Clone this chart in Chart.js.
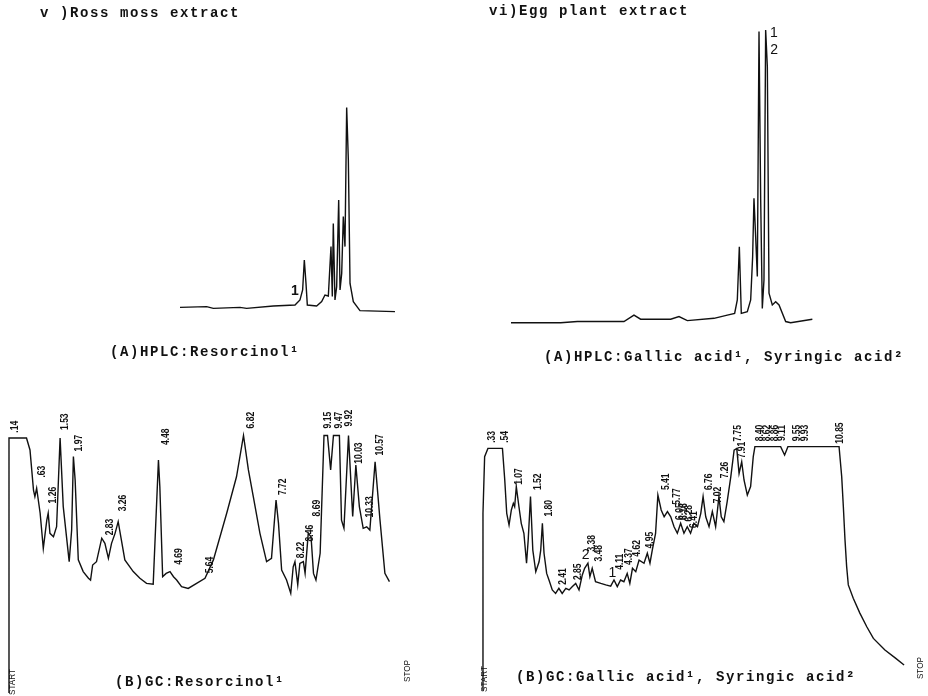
<!DOCTYPE html>
<html>
<head>
<meta charset="utf-8">
<script src="https://cdn.jsdelivr.net/npm/chart.js@4.4.1/dist/chart.umd.min.js"></script>
<style>
  body { margin: 0; background: #fff; }
  #page { position: relative; width: 928px; height: 696px; overflow: hidden; background: #fff; }
  canvas { position: absolute; }
  .txt {
    position: absolute;
    font-family: "Liberation Mono", "DejaVu Sans Mono", monospace;
    font-size: 14px;
    font-weight: bold;
    line-height: 14px;
    letter-spacing: 1.6px;
    color: #111;
    white-space: nowrap;
  }
</style>
</head>
<body>
<div id="page">
  <canvas id="hplcRoss" width="464" height="380" style="left:0;top:0"></canvas>
  <canvas id="hplcEgg" width="464" height="380" style="left:464px;top:0"></canvas>
  <canvas id="gcRoss" width="464" height="316" style="left:0;top:380px"></canvas>
  <canvas id="gcEgg" width="464" height="316" style="left:464px;top:380px"></canvas>

  <div class="txt" style="left:40px;top:6px">v )Ross moss extract</div>
  <div class="txt" style="left:489px;top:4px">vi)Egg plant extract</div>
  <div class="txt" style="left:110px;top:345px">(A)HPLC:Resorcinol¹</div>
  <div class="txt" style="left:544px;top:350px">(A)HPLC:Gallic acid¹, Syringic acid²</div>
  <div class="txt" style="left:115px;top:675px">(B)GC:Resorcinol¹</div>
  <div class="txt" style="left:516px;top:670px">(B)GC:Gallic acid¹, Syringic acid²</div>
</div>

<script>
// HPLC, Ross moss extract (time in min, signal in % of largest peak)
const hplcRossTime = [0, 3.81, 4.76, 8.57, 9.52, 13.33, 16.43, 17.14, 17.52, 17.76, 18.0, 18.19, 19.52, 20.24, 20.71, 21.19, 21.57, 21.76, 21.9, 22.14, 22.38, 22.67, 22.86, 23.1, 23.33, 23.57, 23.81, 24.05, 24.29, 24.76, 25.71, 30.71];
const hplcRossSignal = [-0.2, 0.2, -0.7, -0.2, -0.7, 0.5, 1.0, 3.5, 8.5, 23.5, 11.8, 1.0, 0.5, 2.7, 6.0, 5.5, 30.2, 5.2, 41.8, 3.5, 10.2, 53.5, 8.5, 16.8, 45.2, 30.2, 99.8, 73.5, 11.8, 2.7, -1.8, -2.3];

// HPLC, Egg plant extract
const hplcEggTime = [0, 7.1, 9.48, 16.14, 17.57, 18.52, 22.81, 24.0, 25.19, 29.0, 30.9, 31.95, 32.33, 32.62, 32.9, 33.76, 34.24, 34.52, 34.71, 34.95, 35.19, 35.43, 35.67, 35.9, 36.14, 36.38, 36.62, 36.86, 37.33, 37.81, 38.29, 39.24, 39.95, 43.05];
const hplcEggSignal = [0.1, 0.1, 0.5, 0.5, 2.7, 1.3, 1.3, 2.2, 0.8, 1.6, 2.7, 3.3, 7.9, 26.1, 3.3, 3.9, 7.9, 22.7, 42.7, 29.6, 15.9, 99.8, 42.1, 5.0, 14.7, 100.3, 87.8, 10.2, 6.2, 7.3, 6.2, 0.5, 0.1, 1.3];

// GC, Ross moss extract (retention time in min, response in % of full scale)
const gcRossTime = [0, 0, 0.5, 0.6, 0.7, 0.74, 0.79, 0.89, 0.98, 1.08, 1.12, 1.17, 1.27, 1.36, 1.46, 1.55, 1.72, 1.79, 1.84, 1.89, 1.98, 2.12, 2.27, 2.33, 2.39, 2.5, 2.65, 2.74, 2.84, 2.93, 3.03, 3.12, 3.31, 3.55, 3.74, 3.93, 4.12, 4.27, 4.31, 4.39, 4.49, 4.6, 4.7, 4.79, 4.93, 5.12, 5.36, 5.6, 5.84, 6.22, 6.5, 6.7, 6.84, 6.98, 7.17, 7.36, 7.5, 7.63, 7.7, 7.79, 7.93, 8.05, 8.12, 8.17, 8.25, 8.31, 8.41, 8.46, 8.55, 8.63, 8.7, 8.77, 8.89, 9.0, 9.1, 9.19, 9.27, 9.44, 9.5, 9.57, 9.7, 9.82, 9.91, 10.01, 10.12, 10.22, 10.31, 10.46, 10.6, 10.74, 10.87];
const gcRossResponse = [0, 100, 100, 95.3, 79.6, 77.0, 80.3, 70.5, 56.7, 67.8, 70.5, 62.6, 61.3, 65.2, 100, 73.1, 51.5, 63.9, 92.7, 83.5, 52.2, 47.6, 45.0, 44.3, 50.2, 51.5, 60.7, 58.7, 52.8, 58.7, 62.6, 67.2, 52.2, 47.6, 45.0, 43.0, 42.7, 91.4, 80.9, 45.6, 46.9, 47.6, 45.6, 44.3, 41.7, 41.0, 43.0, 45.0, 52.2, 70.5, 84.8, 101, 87.5, 77.0, 62.6, 51.5, 52.8, 75.7, 66.5, 48.2, 44.3, 39.1, 49.5, 51.5, 42.4, 50.8, 51.5, 46.9, 62.6, 61.3, 46.9, 44.3, 54.8, 101, 101, 87.5, 101, 101, 67.8, 64.6, 101, 69.2, 89.4, 73.1, 64.6, 65.2, 63.9, 90.7, 67.8, 46.9, 43.7];
const gcRossPeakText = [".14", ".63", "1.26", "1.53", "1.97", "2.83", "3.26", "4.48", "4.69", "5.64", "6.82", "7.72", "8.22", "8.46", "8.69", "9.15", "9.47", "9.92", "10.03", "10.33", "10.57"];
const gcRossPeakTime = [0.17, 0.96, 1.26, 1.6, 2.0, 2.89, 3.27, 4.48, 4.86, 5.74, 6.91, 7.84, 8.36, 8.6, 8.81, 9.12, 9.44, 9.72, 10.01, 10.33, 10.6];
const gcRossPeakHeight = [104.4, 86.8, 77.6, 106.4, 98, 65.1, 74.5, 100.5, 53.5, 50.2, 107, 80.9, 56.1, 62.7, 72.5, 107, 107, 107.8, 94.1, 73, 97.3];

// GC, Egg plant extract
const gcEggTime = [0.01, 0.03, 0.08, 0.18, 0.62, 0.69, 0.75, 0.82, 0.89, 0.95, 0.99, 1.04, 1.12, 1.19, 1.27, 1.35, 1.4, 1.47, 1.54, 1.63, 1.73, 1.78, 1.83, 1.88, 1.96, 2.03, 2.13, 2.23, 2.33, 2.43, 2.54, 2.64, 2.74, 2.84, 2.94, 3.04, 3.11, 3.21, 3.27, 3.34, 3.44, 3.6, 3.75, 3.9, 4.0, 4.1, 4.2, 4.3, 4.4, 4.48, 4.56, 4.66, 4.76, 4.91, 5.01, 5.09, 5.16, 5.26, 5.33, 5.43, 5.52, 5.62, 5.72, 5.82, 5.92, 6.02, 6.12, 6.22, 6.32, 6.42, 6.53, 6.63, 6.7, 6.78, 6.88, 6.98, 7.08, 7.18, 7.25, 7.33, 7.43, 7.54, 7.64, 7.72, 7.79, 7.87, 7.94, 8.04, 8.14, 8.22, 8.27, 9.05, 9.17, 9.27, 10.82, 10.9, 10.95, 11.0, 11.05, 11.1, 11.25, 11.45, 11.66, 11.86, 12.21, 12.52, 12.79];
const gcEggResponse = [0, 72.6, 95.9, 99.3, 99.3, 86.3, 72.6, 67.8, 74.0, 76.7, 75.3, 83.6, 75.3, 68.5, 64.4, 52.1, 61.6, 79.5, 57.5, 48.6, 52.7, 57.5, 68.5, 56.2, 47.9, 45.2, 41.1, 39.7, 41.8, 39.7, 41.8, 41.1, 42.5, 43.8, 41.1, 47.3, 50.0, 52.1, 46.6, 50.0, 44.5, 43.8, 43.2, 42.7, 45.2, 42.5, 45.2, 44.5, 47.9, 43.8, 50.0, 48.6, 53.4, 52.1, 56.2, 52.1, 57.5, 64.4, 80.1, 74.0, 71.2, 73.3, 71.2, 67.1, 64.4, 68.5, 64.4, 67.1, 64.4, 68.5, 67.1, 72.6, 79.5, 71.2, 67.1, 73.3, 67.1, 79.5, 71.2, 69.2, 77.4, 87.7, 98.6, 99.3, 89.0, 93.8, 86.3, 80.1, 83.6, 95.9, 100, 100, 96.6, 100, 100, 87.7, 75.3, 61.7, 50.7, 43.2, 37.7, 31.6, 26.0, 21.2, 16.4, 13.2, 10.3];
const gcEggPeakText = [".33", ".54", "1.07", "1.52", "1.80", "2.41", "2.85", "3.38", "3.48", "4.11", "4.37", "4.62", "4.95", "5.41", "5.77", "6.05", "6.16", "6.28", "6.41", "6.76", "7.02", "7.26", "7.75", "7.91", "8.40", "8.62", "8.86", "9.11", "9.55", "9.93", "10.85"];
const gcEggPeakTime = [0.31, 0.72, 1.12, 1.7, 2.03, 2.46, 2.92, 3.34, 3.55, 4.2, 4.45, 4.69, 5.11, 5.57, 5.92, 6.0, 6.14, 6.28, 6.44, 6.88, 7.15, 7.38, 7.76, 7.89, 8.44, 8.65, 8.9, 9.1, 9.56, 9.81, 10.87];
const gcEggPeakHeight = [104, 104, 87.7, 85.6, 74.7, 46.6, 48.6, 60.3, 56.2, 52.7, 54.8, 58.2, 61.6, 85.6, 79.5, 73.3, 73.3, 72.6, 70, 85.6, 80.1, 90.4, 105.5, 98.6, 105.6, 105.6, 105.6, 105.6, 105.6, 105.6, 105.6];

// compound numbers (1 = resorcinol / gallic acid, 2 = syringic acid)
const hplcRossMarks = { text: ["1"], x: [16.43], y: [7.7] };
const hplcEggMarks = { text: ["1", "2"], x: [37.57, 37.6], y: [99.3, 93.3] };
const gcEggMarks = { text: ["2", "1"], x: [3.14, 3.95], y: [55.5, 47.9] };
const gcRossRun = { text: ["START", "STOP"], x: [0.1, 11.4], y: [4.3, 8.6] };
const gcEggRun = { text: ["START", "STOP"], x: [0.08, 13.3], y: [4.5, 9.0] };

// draws rotated peak labels and upright compound numbers at data positions
const peakLabels = {
  id: "peakLabels",
  afterDatasetsDraw(chart, args, opts) {
    const ctx = chart.ctx;
    const xs = chart.scales.x;
    const ys = chart.scales.y;
    ctx.save();
    ctx.fillStyle = "#111";
    ctx.textAlign = "center";
    ctx.textBaseline = "middle";

    function vertical(list, font, squeeze) {
      if (!list) return;
      list.text.forEach((t, i) => {
        ctx.save();
        ctx.translate(xs.getPixelForValue(list.x[i]), ys.getPixelForValue(list.y[i]));
        ctx.rotate(-Math.PI / 2);
        ctx.scale(squeeze, 1);
        ctx.font = font;
        ctx.fillText(t, 0, 0);
        ctx.restore();
      });
    }

    vertical(opts.peaks, 'bold 10px "Liberation Sans", Arial, sans-serif', 0.85);
    vertical(opts.run, '9px "Liberation Sans", Arial, sans-serif', 0.9);

    if (opts.marks) {
      ctx.font = (opts.markFont || '14px "Liberation Sans", Arial, sans-serif');
      opts.marks.text.forEach((t, i) => {
        ctx.fillText(t, xs.getPixelForValue(opts.marks.x[i]), ys.getPixelForValue(opts.marks.y[i]));
      });
    }
    ctx.restore();
  }
};

function makeChart(id, times, values, xMin, xMax, yMin, yMax, labelOpts) {
  return new Chart(document.getElementById(id), {
    type: "line",
    data: {
      datasets: [{
        data: times.map((t, i) => ({ x: t, y: values[i] })),
        borderColor: "#111",
        borderWidth: 1.4,
        pointRadius: 0,
        tension: 0,
        fill: false,
        clip: false
      }]
    },
    options: {
      responsive: false,
      animation: false,
      events: [],
      layout: { padding: 0 },
      plugins: {
        legend: { display: false },
        tooltip: { enabled: false },
        peakLabels: labelOpts
      },
      scales: {
        x: { type: "linear", display: false, min: xMin, max: xMax },
        y: { type: "linear", display: false, min: yMin, max: yMax }
      }
    },
    plugins: [peakLabels]
  });
}

makeChart("hplcRoss", hplcRossTime, hplcRossSignal, -25.71, 40.57, -36.5, 153.5,
  { marks: hplcRossMarks, markFont: 'bold 14px "Liberation Sans", Arial, sans-serif' });
makeChart("hplcEgg", hplcEggTime, hplcEggSignal, -6.71, 59.57, -19.52, 110.6,
  { marks: hplcEggMarks });
makeChart("gcRoss", gcRossTime, gcRossResponse, -0.257, 13.0, -1.18, 122.75,
  { peaks: { text: gcRossPeakText, x: gcRossPeakTime, y: gcRossPeakHeight }, run: gcRossRun });
makeChart("gcEgg", gcEggTime, gcEggResponse, -0.545, 13.515, -2.47, 127.4,
  { peaks: { text: gcEggPeakText, x: gcEggPeakTime, y: gcEggPeakHeight }, run: gcEggRun, marks: gcEggMarks });
</script>
</body>
</html>
